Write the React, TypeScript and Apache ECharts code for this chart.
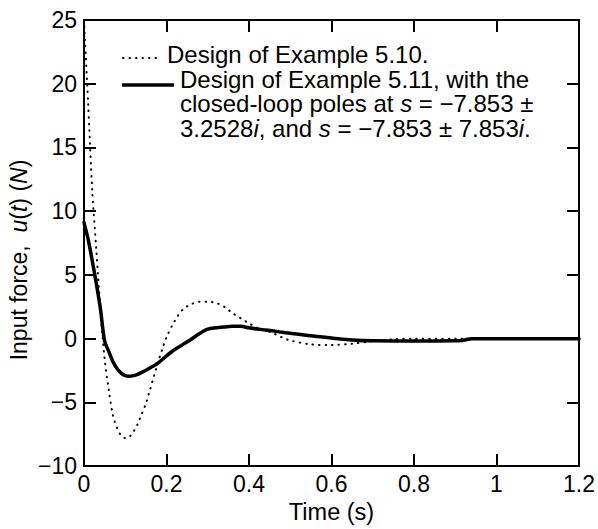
import React, { useEffect, useRef } from "react";
import * as echarts from "echarts";

// Example 5.10 design (dotted)
const dottedT = [0, 0.01, 0.02, 0.03, 0.04, 0.05, 0.06, 0.07, 0.08, 0.09, 0.1, 0.11, 0.12, 0.13, 0.14, 0.15, 0.16, 0.17, 0.18, 0.19, 0.2, 0.22, 0.24, 0.26, 0.28, 0.3, 0.32, 0.34, 0.36, 0.38, 0.4, 0.42, 0.44, 0.46, 0.48, 0.5, 0.55, 0.6, 0.65, 0.7, 0.75, 0.8, 0.9, 1.0, 1.1, 1.2];
const dottedU = [25, 18.5, 11.6, 6.9, 2.2, -1.6, -4.0, -6.0, -7.0, -7.6, -7.8, -7.7, -7.3, -6.7, -5.9, -5.1, -4.0, -2.9, -1.8, -0.8, 0.1, 1.4, 2.3, 2.7, 2.9, 2.9, 2.8, 2.5, 2.0, 1.6, 1.2, 0.85, 0.65, 0.4, 0.1, -0.15, -0.45, -0.5, -0.4, -0.2, -0.05, 0, 0, 0, 0, 0];

// Example 5.11 design (solid)
const solidT = [0, 0.01, 0.02, 0.03, 0.04, 0.05, 0.06, 0.07, 0.08, 0.09, 0.1, 0.11, 0.12, 0.13, 0.14, 0.16, 0.18, 0.2, 0.22, 0.24, 0.26, 0.28, 0.3, 0.32, 0.34, 0.36, 0.38, 0.4, 0.42, 0.44, 0.46, 0.48, 0.5, 0.52, 0.55, 0.6, 0.65, 0.7, 0.8, 0.9, 0.92, 0.94, 1.0, 1.1, 1.2];
const solidU = [9.1, 7.8, 6.1, 4.3, 2.3, -0.2, -1.0, -1.8, -2.35, -2.7, -2.9, -2.95, -2.9, -2.8, -2.65, -2.3, -1.9, -1.35, -0.85, -0.45, -0.05, 0.4, 0.75, 0.85, 0.92, 0.98, 0.97, 0.85, 0.75, 0.68, 0.6, 0.5, 0.42, 0.35, 0.22, 0.05, -0.1, -0.17, -0.18, -0.17, -0.12, 0, 0, 0, 0];

const xTicks = { min: 0, max: 1.2, interval: 0.2 };
const yTicks = { min: -10, max: 25, interval: 5 };

const legendLines = [
  "Design of Example 5.10.",
  "Design of Example 5.11, with the",
  "closed-loop poles at {i|s} = \u22127.853 \u00b1",
  "3.2528{i|i}, and {i|s} = \u22127.853 \u00b1 7.853{i|i}.",
];

const FONT = "'Liberation Sans', Arial, Helvetica, sans-serif";

export default function App() {
  const ref = useRef<HTMLDivElement>(null);
  useEffect(() => {
    if (!ref.current) return;
    const chart = echarts.init(ref.current, null, { renderer: "svg" });
    const axisLine = { show: true, onZero: false, lineStyle: { color: "#000", width: 2 } };
    const tick = { show: true, inside: true, length: 12, lineStyle: { color: "#000", width: 2 } };
    const lbl = { color: "#000", fontSize: 23, fontFamily: FONT };
    const fmt = (v: number) => String(Math.round(v * 100) / 100).replace("-", "\u2212");
    const LF = 24;
    const LH = 22;
    const rich = { i: { fontStyle: "italic", fontSize: LF, lineHeight: LH, fontFamily: FONT, fill: "#000" } };
    const richY = { i: { fontStyle: "italic", fontSize: 23, fontFamily: FONT, fill: "#000" } };
    const legendY = [54, 79, 103.5, 128];
    const legendX = [167, 180, 180, 180];
    chart.setOption({
      animation: false,
      backgroundColor: "#fff",
      grid: { left: 84, right: 18, top: 20, bottom: 62 },
      xAxis: [
        {
          type: "value", ...xTicks, position: "bottom",
          axisLine, axisTick: tick, splitLine: { show: false },
          axisLabel: { ...lbl, margin: 6, formatter: fmt },
          name: "Time (s)", nameLocation: "middle", nameGap: 28,
          nameTextStyle: { color: "#000", fontSize: 23.5, fontFamily: FONT },
        },
        {
          type: "value", ...xTicks, position: "top",
          axisLine, axisTick: tick, splitLine: { show: false }, axisLabel: { show: false },
        },
      ],
      yAxis: [
        {
          type: "value", ...yTicks, position: "left",
          axisLine, axisTick: tick, splitLine: { show: false },
          axisLabel: { ...lbl, margin: 7, formatter: fmt },
        },
        {
          type: "value", ...yTicks, position: "right",
          axisLine, axisTick: tick, splitLine: { show: false }, axisLabel: { show: false },
        },
      ],
      series: [
        {
          type: "line", name: "Design of Example 5.10.",
          data: dottedT.map((t, i) => [t, dottedU[i]]),
          showSymbol: false, smooth: 0.3, clip: true,
          lineStyle: { color: "#000", width: 2, type: [0.5, 6], cap: "round" },
        },
        {
          type: "line", name: "Design of Example 5.11",
          data: solidT.map((t, i) => [t, solidU[i]]),
          showSymbol: false, smooth: 0.3, clip: true,
          lineStyle: { color: "#000", width: 3.5, cap: "round", join: "round" },
        },
      ],
      graphic: [
        {
          type: "line", shape: { x1: 123, y1: 58, x2: 161, y2: 58 },
          style: { stroke: "#000", lineWidth: 2, lineDash: [0.5, 6], lineCap: "round" },
        },
        {
          type: "line", shape: { x1: 122, y1: 85, x2: 174, y2: 85 },
          style: { stroke: "#000", lineWidth: 3.5 },
        },
        ...legendLines.map((t, k) => ({
          type: "text", x: legendX[k], y: legendY[k],
          style: {
            text: t, fill: "#000", fontSize: LF, lineHeight: LH, fontFamily: FONT,
            verticalAlign: "middle", align: "left", rich,
          },
        })),
        {
          type: "text", x: 19, y: 260, rotation: Math.PI / 2,
          style: {
            text: "Input force,  {i|u}({i|t}) ({i|N})", fill: "#000", fontSize: 23, fontFamily: FONT,
            align: "center", verticalAlign: "middle", rich: richY,
          },
        },
      ],
    });
    return () => chart.dispose();
  }, []);
  return <div ref={ref} style={{ position: "absolute", left: 0, top: 0, width: 598, height: 529 }} />;
}
